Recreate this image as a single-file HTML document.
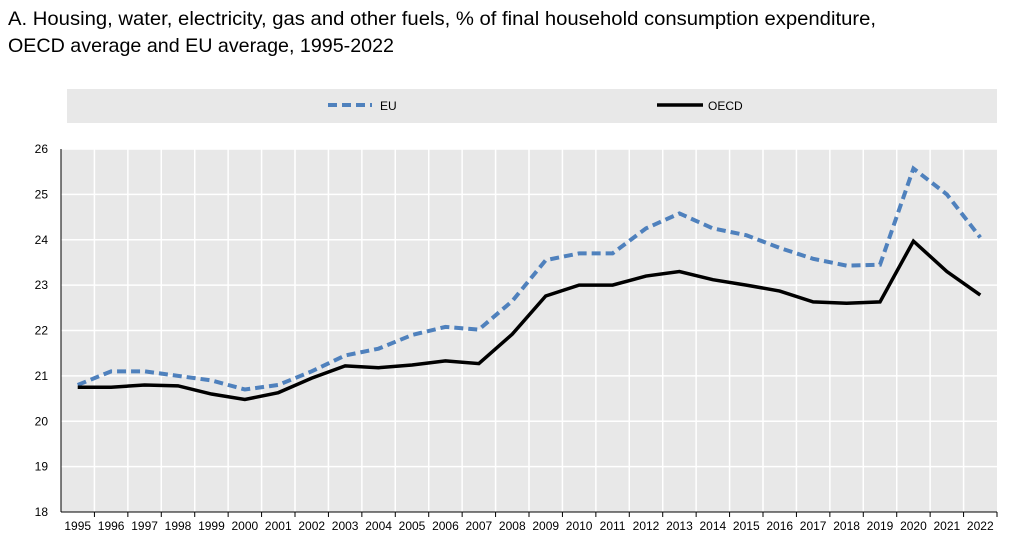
<!DOCTYPE html>
<html><head><meta charset="utf-8"><style>
body{margin:0;background:#fff;font-family:"Liberation Sans",Arial,sans-serif;}
svg text{font-family:"Liberation Sans",Arial,sans-serif;}
</style></head><body>
<svg width="1026" height="549" xmlns="http://www.w3.org/2000/svg">
<text x="8" y="25" font-size="19.5" textLength="868" lengthAdjust="spacingAndGlyphs" fill="#000">A. Housing, water, electricity, gas and other fuels, % of final household consumption expenditure,</text>
<text x="8" y="52" font-size="19.5" textLength="386" lengthAdjust="spacingAndGlyphs" fill="#000">OECD average and EU average, 1995-2022</text>
<rect x="67" y="89" width="930" height="34" fill="#e8e8e8"/>
<g><line x1="328" y1="105" x2="372" y2="105" stroke="#4f81bd" stroke-width="4" stroke-dasharray="9,5"/><text x="380" y="110" font-size="12">EU</text></g>
<g><line x1="657" y1="105" x2="703" y2="105" stroke="#000" stroke-width="3.5"/><text x="708" y="110" font-size="12">OECD</text></g>
<rect x="61" y="149" width="936" height="363" fill="#e8e8e8"/>
<g id="grid"></g><g id="axes"></g><g id="series"></g>
</svg>
<script>
const years=[1995,1996,1997,1998,1999,2000,2001,2002,2003,2004,2005,2006,2007,2008,2009,2010,2011,2012,2013,2014,2015,2016,2017,2018,2019,2020,2021,2022];
const euValues=[20.8,21.1,21.1,21.0,20.9,20.7,20.8,21.1,21.45,21.6,21.9,22.08,22.02,22.65,23.55,23.7,23.7,24.25,24.58,24.25,24.1,23.82,23.58,23.43,23.45,25.57,25.0,24.05];
const oecdValues=[20.75,20.75,20.8,20.78,20.6,20.48,20.63,20.95,21.22,21.18,21.24,21.33,21.27,21.92,22.76,23.0,23.0,23.2,23.3,23.12,23.0,22.87,22.63,22.6,22.63,23.97,23.3,22.78];
const yTicks=[18,19,20,21,22,23,24,25,26];
const NS="http://www.w3.org/2000/svg";
const L=61,R=997,T=149,B=512,yMin=18,yMax=26;
const bw=(R-L)/years.length;
const xs=i=>L+bw*(i+0.5);
const ys=v=>B-(v-yMin)/(yMax-yMin)*(B-T);
function mk(tag,attrs,parent){const e=document.createElementNS(NS,tag);for(const k in attrs)e.setAttribute(k,attrs[k]);document.getElementById(parent).appendChild(e);return e;}
yTicks.forEach(t=>{
 if(t>yMin){const g=mk('line',{x1:L,x2:R,y1:ys(t),y2:ys(t),stroke:'#fff','stroke-width':1.5},'grid');
 
 }
 const tx=mk('text',{x:L-13,y:ys(t)+4,'font-size':12,'text-anchor':'end'},'axes');tx.textContent=t;
 
 
});
for(let i=1;i<=years.length;i++){
 const x=L+bw*i;
 if(i<years.length){const g=mk('line',{x1:x,x2:x,y1:T,y2:B,stroke:'#fff','stroke-width':1.5},'grid');
 
 }
 mk('line',{x1:x,x2:x,y1:B,y2:B+5,stroke:'#000','stroke-width':1},'axes');
}
years.forEach((y,i)=>{const tx=mk('text',{x:xs(i),y:B+18,'font-size':12,'text-anchor':'middle'},'axes');tx.textContent=y;
 
 });
const ax=mk('line',{x1:L,x2:L,y1:T,y2:B,stroke:'#000','stroke-width':1},'axes');


const bx=mk('line',{x1:L,x2:R,y1:B,y2:B,stroke:'#000','stroke-width':1},'axes');


const eu=mk('polyline',{points:euValues.map((v,i)=>xs(i)+','+ys(v)).join(' '),fill:'none',stroke:'#4f81bd','stroke-width':4,'stroke-dasharray':'9,5'},'series');


const oe=mk('polyline',{points:oecdValues.map((v,i)=>xs(i)+','+ys(v)).join(' '),fill:'none',stroke:'#000','stroke-width':3.5},'series');


</script>
</body></html>
